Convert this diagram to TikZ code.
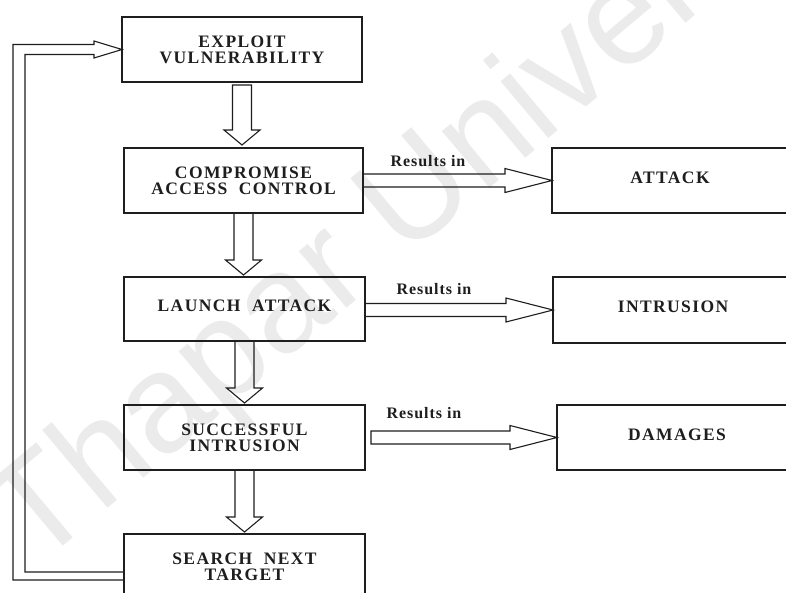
\documentclass[tikz,border=0pt]{standalone}
\usepackage{fontspec}
\setmainfont{Liberation Serif}
\newfontfamily\boxface[LetterSpace=8,WordSpace=2]{Liberation Serif}
\newfontfamily\tagface[LetterSpace=6]{Liberation Serif}
\newfontfamily\markfont{Liberation Sans}
\usetikzlibrary{calc}
\definecolor{ink}{HTML}{1E1E1E}
\definecolor{markgray}{HTML}{EBEBEB}

% hollow block arrow pointing down from #1 to #2 (#3: gap below #1, #4: gap above #2)
\newcommand\downblock[4]{%
  \draw[blockarrow] let \p1=(#1.south), \p2=(#2.north) in
    (\x1-9.5pt,\y1-#3pt) -- (\x1-9.5pt,\y2+#4pt+15pt) -- (\x1-18pt,\y2+#4pt+15pt)
    -- (\x1,\y2+#4pt) -- (\x1+18pt,\y2+#4pt+15pt) -- (\x1+9.5pt,\y2+#4pt+15pt)
    -- (\x1+9.5pt,\y1-#3pt) -- cycle;}
% hollow block arrow pointing right from #1 to #2 (#3: gap after #1)
\newcommand\rightblock[3]{%
  \draw[blockarrow] let \p1=(#1.east), \p2=(#2.west) in
    (\x1+#3pt,\y2+6.5pt) -- (\x2-47pt,\y2+6.5pt) -- (\x2-47pt,\y2+12pt) -- (\p2)
    -- (\x2-47pt,\y2-12pt) -- (\x2-47pt,\y2-6.5pt) -- (\x1+#3pt,\y2-6.5pt) -- cycle;}

\begin{document}
\begin{tikzpicture}[x=1pt,y=-1pt,
  box/.style={draw=ink, line width=1.2pt, inner sep=0pt, outer sep=0pt, align=center,
    text=ink, font=\boxface\bfseries\fontsize{17.5}{16}\selectfont},
  oneline/.style={text depth=6pt},
  tag/.style={text=ink, inner sep=0pt, anchor=base,
    font=\tagface\bfseries\fontsize{16}{16}\selectfont},
  blockarrow/.style={draw=ink, line width=1.1pt, line join=miter},
]
\useasboundingbox (0,0) rectangle (786,592);
\clip (0,0) rectangle (786,592);
\fill[white] (0,0) rectangle (786,592);

% faint diagonal watermark
\node[text=markgray, inner sep=0pt, anchor=base west, rotate=40,
  font=\markfont\fontsize{140}{140}\selectfont] (mark) at (35,570) {Thapar University};

% main chain
\node[box, minimum width=240pt, minimum height=65pt] (exploit) at (242,49.5) {EXPLOIT\\VULNERABILITY};
\node[box, minimum width=239pt, minimum height=65pt] (comp) at (243.5,180.5) {COMPROMISE\\ACCESS CONTROL};
\node[box, oneline, minimum width=241pt, minimum height=64pt] (launch) at (244.5,309) {LAUNCH ATTACK};
\node[box, minimum width=241pt, minimum height=65pt] (succ) at (244.5,437.5) {SUCCESSFUL\\INTRUSION};
\node[box, minimum width=241pt, minimum height=66pt] (search) at (244.5,567) {SEARCH NEXT\\TARGET};

% outcomes
\node[box, oneline, minimum width=236pt, minimum height=65pt] (attack) at (670,180.5) {ATTACK};
\node[box, oneline, minimum width=240pt, minimum height=66pt] (intrusion) at (673,310) {INTRUSION};
\node[box, oneline, minimum width=240pt, minimum height=65pt] (damages) at (677,437.5) {DAMAGES};

% labels
\node[tag] (res1) at (428,166) {Results in};
\node[tag] (res2) at (434,294) {Results in};
\node[tag] (res3) at (424,418) {Results in};

% arrows
\downblock{exploit}{comp}{3}{3}
\downblock{comp}{launch}{0}{2}
\downblock{launch}{succ}{0}{2}
\downblock{succ}{search}{0}{2}

\rightblock{comp}{attack}{0}
\rightblock{launch}{intrusion}{0}
\rightblock{succ}{damages}{6}

% loop back to the start
\draw[blockarrow] let \p1=(search.west), \p2=(exploit.west) in
  (\x1,\y1-5pt) -- (25pt,\y1-5pt) -- (25pt,\y2-5pt) -- (\x2-28pt,\y2-5pt)
  -- (\x2-28pt,\y2-8.5pt) -- (\p2) -- (\x2-28pt,\y2+8.5pt) -- (\x2-28pt,\y2+5pt)
  -- (13pt,\y2+5pt) -- (13pt,\y1-13pt) -- (\x1,\y1-13pt) -- cycle;
\end{tikzpicture}
\end{document}
